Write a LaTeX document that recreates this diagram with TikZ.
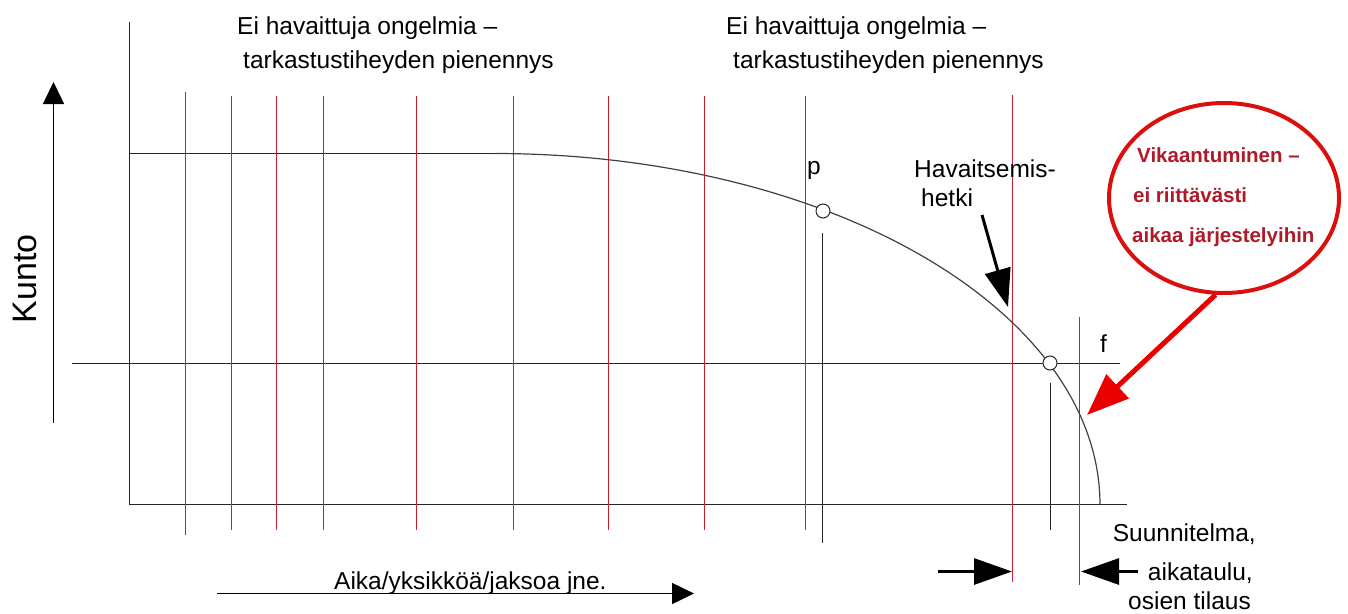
\documentclass[tikz,border=0pt]{standalone}
\usepackage{fontspec}
\setmainfont{Liberation Sans}
\usetikzlibrary{arrows.meta,shapes.geometric}
\definecolor{redline}{RGB}{205,30,50}
\definecolor{bubblered}{RGB}{220,15,15}
\definecolor{bubbletext}{RGB}{175,25,40}
\definecolor{pointred}{RGB}{235,0,0}
\begin{document}
\begin{tikzpicture}[x=1pt,y=-1pt,
  axis/.style={line width=1.3pt, draw=black!85},
  redv/.style={line width=1.6pt, draw=redline},
  curveline/.style={line width=1.2pt, draw=black!75},
  lbl/.style={font=\fontsize{24.5}{30}\selectfont, inner sep=0pt},
  btxt/.style={font=\bfseries\fontsize{20.5}{26}\selectfont, text=bubbletext, inner sep=0pt, anchor=base west},
  bigarrow/.style={line width=3pt, -{Triangle[length=38pt,width=26pt]}},
  axarrow/.style={line width=1.5pt, -{Triangle[length=22pt,width=21pt]}},
  dot/.style={circle, draw=black!85, fill=white, line width=1pt, minimum size=14pt, inner sep=0pt},
  ]
\useasboundingbox (0,0) rectangle (1348,613);
% axes and horizontal lines
\coordinate (Ytop) at (129.5,22);
\coordinate (O) at (129.5,504.5);
\coordinate (Xend) at (1127,504.5);
\draw[axis] (Ytop) -- (O) -- (Xend);
\coordinate (H1a) at (129.5,153.5);
\coordinate (H1b) at (495,153.5);
\draw[axis] (H1a) -- (H1b);
\coordinate (M1) at (72,363.5);
\coordinate (M2) at (1120,363.5);
\draw[axis] (M1) -- (M2);
% red inspection lines
\foreach \xx/\tt/\bb [count=\i] in {185.5/92/535, 231.5/96/530, 276.5/96/530, 323.5/96/530, 416.5/96/530, 513.5/96/530, 608.5/96/530, 704.5/96/530, 805.5/96/530, 1012.5/95/582, 1079.5/317/585}{
  \coordinate (r\i t) at (\xx,\tt);
  \coordinate (r\i b) at (\xx,\bb);
  \draw[redv] (r\i t) -- (r\i b);
}
% curve
\draw[curveline] plot[smooth, domain=90:0, samples=80] ({495+605*cos(\x)},{504.5-351*sin(\x)});
% black verticals
\coordinate (pv1) at (822.5,233); \coordinate (pv2) at (822.5,543);
\draw[axis] (pv1) -- (pv2);
\coordinate (fv1) at (1050.5,383); \coordinate (fv2) at (1050.5,530);
\draw[axis] (fv1) -- (fv2);
% points
\node[dot] (P) at (823,211) {};
\node[dot] (F) at (1050,363) {};
% texts
\node[lbl, anchor=base west] (t1a) at (237,34) {Ei havaittuja ongelmia –};
\node[lbl, anchor=base west] (t1b) at (243,68) {tarkastustiheyden pienennys};
\node[lbl, anchor=base west] (t2a) at (726,34) {Ei havaittuja ongelmia –};
\node[lbl, anchor=base west] (t2b) at (733,68) {tarkastustiheyden pienennys};
\node[lbl, anchor=base west] (hav1) at (914,177) {Havaitsemis-};
\node[lbl, anchor=base west] (hav2) at (921,206) {hetki};
\node[lbl, anchor=base west] (plbl) at (807,174) {p};
\node[lbl, anchor=base west] (flbl) at (1100,352) {f};
\node[lbl, anchor=base east] (s1) at (1256,541) {Suunnitelma,};
\node[lbl, anchor=base east] (s2) at (1253,580) {aikataulu,};
\node[lbl, anchor=base east] (s3) at (1251,609) {osien tilaus};
\node[lbl, anchor=base west] (aika) at (334,589) {Aika/yksikköä/jaksoa jne.};
\node[font=\fontsize{34}{40}\selectfont, rotate=90, inner sep=0pt] (kunto) at (25,279) {Kunto};
% axis arrows
\coordinate (ka) at (53.5,423); \coordinate (kb) at (53.5,82);
\draw[axarrow] (ka) -- (kb);
\coordinate (aa) at (217,593.5); \coordinate (ab) at (694,593.5);
\draw[axarrow] (aa) -- (ab);
% black arrows
\coordinate (ha) at (982,215); \coordinate (hb) at (1008,307);
\draw[bigarrow] (ha) -- (hb);
\coordinate (la) at (938,571.5); \coordinate (lb) at (1012,571.5);
\draw[bigarrow] (la) -- (lb);
\coordinate (ra) at (1138,571.5); \coordinate (rb) at (1081,571.5);
\draw[bigarrow] (ra) -- (rb);
% bubble
\node[ellipse, draw=bubblered, line width=4pt, minimum width=230pt, minimum height=190pt, inner sep=0pt] (bubble) at (1224,198) {};
\node[btxt] (b1) at (1137,162) {Vikaantuminen –};
\node[btxt] (b2) at (1133,202) {ei riittävästi};
\node[btxt] (b3) at (1132,242) {aikaa järjestelyihin};
\coordinate (ptip) at (1087,415);
\draw[draw=pointred, line width=5pt, -{Triangle[length=42pt,width=32pt]}, pointred] (bubble.265) -- (ptip);
\end{tikzpicture}
\end{document}
